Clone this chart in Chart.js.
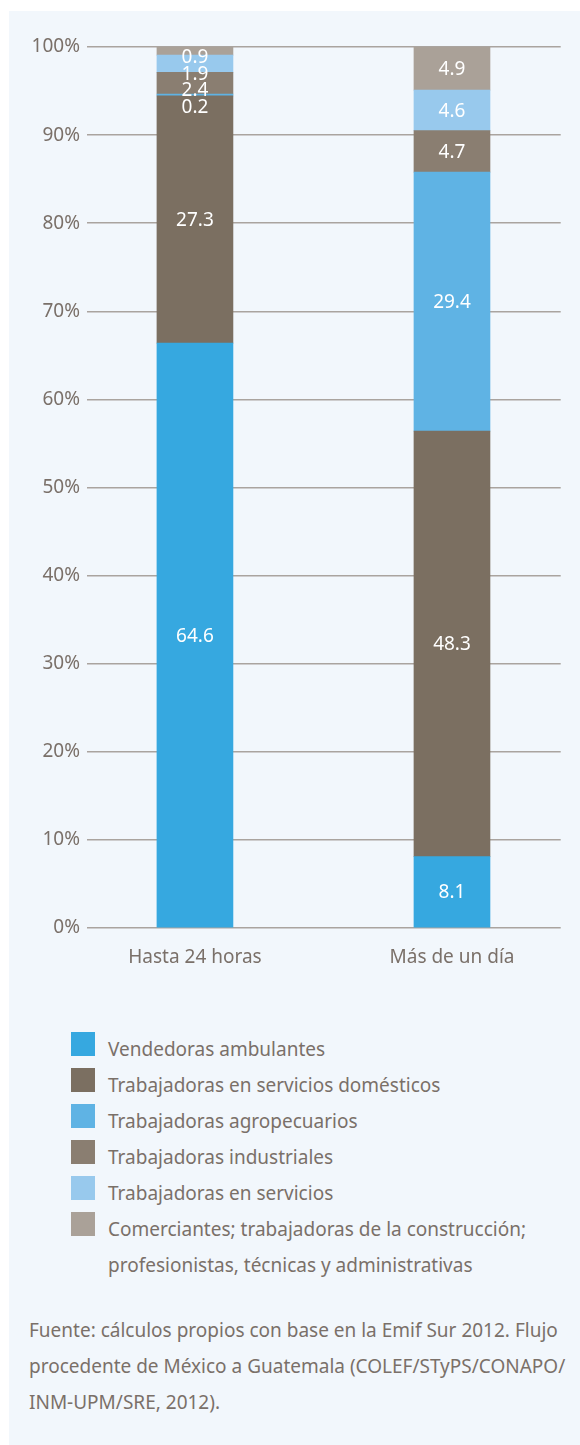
<!DOCTYPE html>
<html><head><meta charset="utf-8">
<script src="https://cdn.jsdelivr.net/npm/chart.js@4"></script>
<style>
html,body{margin:0;padding:0;background:#fff;}
body{width:580px;height:1445px;position:relative;overflow:hidden;font-family:"Noto Sans",sans-serif;color:#7a7069;}
#panel{position:absolute;left:9px;top:11px;width:571px;height:1434px;background:#f2f7fc;}
#wrap{position:absolute;left:0;top:0;width:580px;height:990px;}
#legend{position:absolute;left:71px;top:1032px;}
.row{position:relative;height:36px;}
.box{position:absolute;left:0;top:0;width:24px;height:24px;}
.lab{position:absolute;left:37px;top:-1px;font-size:19px;line-height:36px;white-space:pre;}
#note{position:absolute;left:29px;top:1312px;font-size:19px;line-height:36px;white-space:pre;}
</style></head>
<body>
<div id="panel"></div>
<div id="wrap"><canvas id="c" width="580" height="990"></canvas></div>
<div id="legend"></div>
<div id="note">Fuente: cálculos propios con base en la Emif Sur 2012. Flujo
procedente de México a Guatemala (COLEF/STyPS/CONAPO/
INM-UPM/SRE, 2012).</div>
<script>
const categories = ['Hasta 24 horas', 'Más de un día'];
const seriesNames = [
  'Vendedoras ambulantes',
  'Trabajadoras en servicios domésticos',
  'Trabajadoras agropecuarios',
  'Trabajadoras industriales',
  'Trabajadoras en servicios',
  'Comerciantes; trabajadoras de la construcción;\nprofesionistas, técnicas y administrativas'
];
const vendedoras    = [64.6, 8.1];
const domesticos    = [27.3, 48.3];
const agropecuarios = [0.2, 29.4];
const industriales  = [2.4, 4.7];
const servicios     = [1.9, 4.6];
const comerciantes  = [0.9, 4.9];
const seriesColors = ['#36a8e0', '#7b6f61', '#5fb3e4', '#8a7e71', '#98c9ed', '#aaa198'];
const yTicks = [0, 10, 20, 30, 40, 50, 60, 70, 80, 90, 100];

const seriesValues = [vendedoras, domesticos, agropecuarios, industriales, servicios, comerciantes];
const totals = categories.map((c, i) => seriesValues.reduce((s, arr) => s + arr[i], 0));

const textColor = '#7a7069';
const FONT = '"Noto Sans", sans-serif';
const X_MIN = -0.42, X_MAX = 1.423;

// legend
const leg = document.getElementById('legend');
seriesNames.forEach((n, k) => {
  const r = document.createElement('div'); r.className = 'row';
  const b = document.createElement('div'); b.className = 'box'; b.style.background = seriesColors[k];
  const t = document.createElement('div'); t.className = 'lab'; t.textContent = n;
  r.appendChild(b); r.appendChild(t); leg.appendChild(r);
});

const valueLabels = {
  id: 'valueLabels',
  afterDatasetsDraw(chart) {
    const ctx = chart.ctx, ys = chart.scales.y;
    ctx.save();
    ctx.font = '19px ' + FONT;
    ctx.fillStyle = '#ffffff';
    ctx.textAlign = 'center';
    ctx.textBaseline = 'middle';
    categories.forEach((c, i) => {
      const small = [];
      chart.data.datasets.forEach((ds, d) => {
        const el = chart.getDatasetMeta(d).data[i];
        const v = seriesValues[d][i];
        if (ds.data[i].y < 3) small.push({ el, v, d });
        else ctx.fillText(v.toFixed(1), el.x, (el.y + el.base) / 2 + 1);
      });
      small.sort((a, b) => b.d - a.d);
      const top = ys.getPixelForValue(100);
      small.forEach((s, k) => ctx.fillText(s.v.toFixed(1), s.el.x, top + 11 + 16.5 * k));
    });
    ctx.restore();
  }
};

new Chart(document.getElementById('c'), {
  type: 'bar',
  data: {
    datasets: seriesValues.map((arr, d) => ({
      label: seriesNames[d],
      data: categories.map((c, i) => ({ x: i, y: arr[i] / totals[i] * 100 })),
      backgroundColor: seriesColors[d],
      borderWidth: 0,
      barThickness: 76
    }))
  },
  options: {
    responsive: false,
    devicePixelRatio: 1,
    animation: false,
    layout: { padding: { left: 0, right: 19.3, top: 47, bottom: 0 } },
    plugins: { legend: { display: false }, tooltip: { enabled: false } },
    scales: {
      x: {
        type: 'linear',
        offset: false,
        stacked: true,
        min: X_MIN,
        max: X_MAX,
        grid: { display: false, offset: false },
        border: { display: false },
        afterDataLimits: s => { s.min = X_MIN; s.max = X_MAX; },
        afterBuildTicks: s => { s.ticks = categories.map((c, i) => ({ value: i })); },
        afterFit: s => { s.height = 62; },
        ticks: {
          autoSkip: false, maxRotation: 0,
          callback: v => categories[v],
          color: textColor, font: { family: FONT, size: 19 }, padding: 10
        }
      },
      y: {
        stacked: true,
        min: 0, max: 100,
        afterBuildTicks: s => { s.ticks = yTicks.map(v => ({ value: v })); },
        afterFit: s => { s.width = 87; },
        grid: { color: '#aaa49f', lineWidth: 1.5, drawTicks: false },
        border: { display: false },
        ticks: {
          callback: v => v + '%',
          color: textColor, font: { family: FONT, size: 19 }, padding: 7
        }
      }
    }
  },
  plugins: [valueLabels]
});
</script>
</body></html>
